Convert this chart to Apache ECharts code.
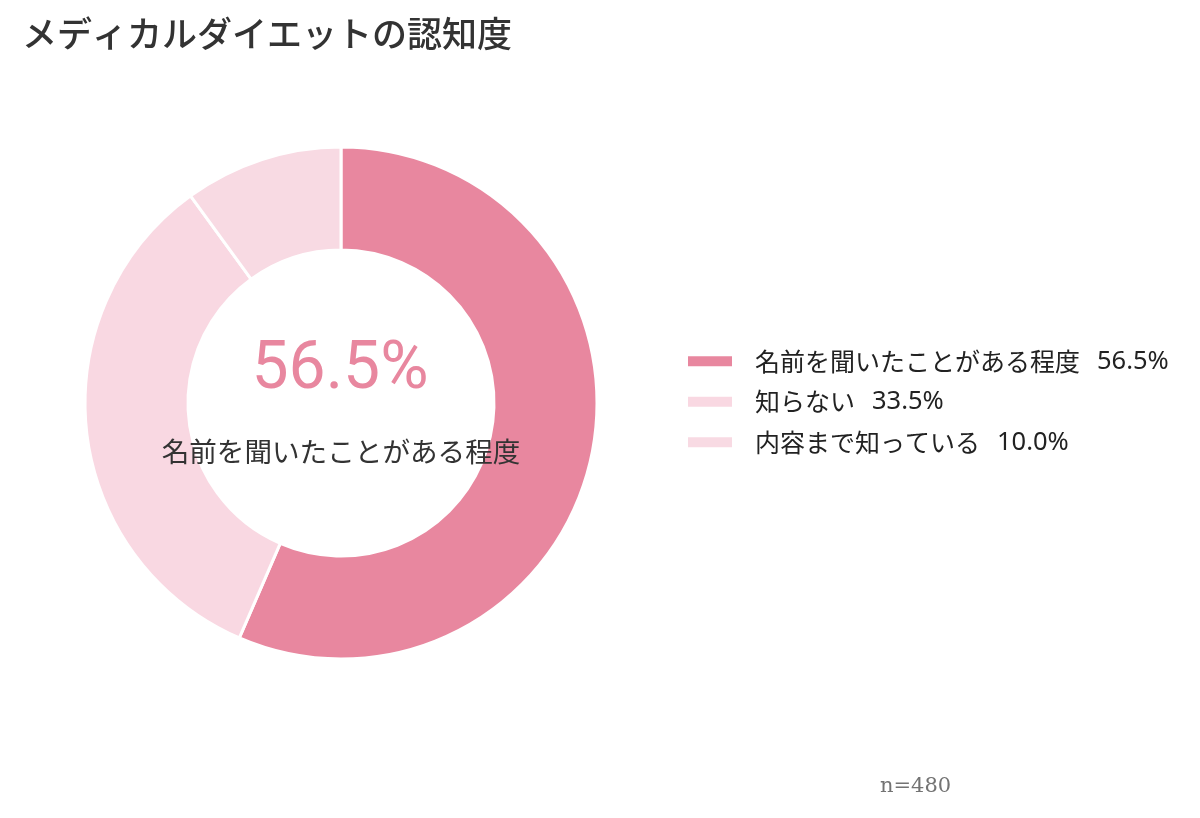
<!DOCTYPE html>
<html><head><meta charset="utf-8">
<script src="https://cdn.jsdelivr.net/npm/echarts@6/dist/echarts.min.js"></script>
<style>html,body{margin:0;padding:0;background:#fff}#c{width:1200px;height:818px}</style>
</head><body><div id="c"></div>
<script>
const categories = ['名前を聞いたことがある程度', '知らない', '内容まで知っている'];
const values = [56.5, 33.5, 10.0];
const colors = ['#E8879F', '#F9D8E2', '#F8DAE3'];
const titleText = 'メディカルダイエットの認知度';
const sampleText = 'n=480';

const font = '"Noto Sans CJK JP", "Noto Sans", sans-serif';
const chart = echarts.init(document.getElementById('c'));
chart.setOption({
  backgroundColor: '#fff',
  animation: false,
  title: [
    { text: titleText, left: 17, top: 11, textStyle: { fontFamily: font, fontSize: 35, fontWeight: 500, color: '#333' } },
    { text: values[0].toFixed(1) + '%', left: 335, top: 366, textAlign: 'center', textVerticalAlign: 'middle',
      textStyle: { fontFamily: 'Roboto, "Noto Sans", sans-serif', fontSize: 66, fontWeight: 400, color: '#E8879F' } },
    { text: categories[0], left: 336, top: 447, textAlign: 'center', textVerticalAlign: 'middle',
      textStyle: { fontFamily: font, fontSize: 27.6, fontWeight: 400, color: '#333' } }
  ],
  graphic: [
    { type: 'text', left: 880, top: 776, style: { text: sampleText, font: '21px "DejaVu Serif", serif', fill: '#737373' } }
  ],
  legend: {
    orient: 'vertical', left: 681, top: 342,
    itemWidth: 46, itemHeight: 12, itemGap: 12,
    icon: 'rect',
    data: categories,
    formatter: function (name) {
      const i = categories.indexOf(name);
      return '{n|' + name + '}{v|' + values[i].toFixed(1) + '%}';
    },
    textStyle: {
      fontFamily: font, fontSize: 25, color: '#222', lineHeight: 28.5, padding: [0, 0, 0, 17],
      rich: {
        n: { fontFamily: font, fontSize: 25, color: '#222', lineHeight: 28.5 },
        v: { fontFamily: '"Noto Sans", sans-serif', fontSize: 25.5, color: '#222', lineHeight: 28.5, padding: [0, 0, 0, 17] }
      }
    }
  },
  series: [{
    type: 'pie',
    center: [341, 403],
    radius: [153, 256],
    startAngle: 90,
    clockwise: true,
    label: { show: false },
    labelLine: { show: false },
    emphasis: { disabled: true },
    itemStyle: { borderColor: '#fff', borderWidth: 3 },
    data: categories.map((c, i) => ({ name: c, value: values[i], itemStyle: { color: colors[i] } }))
  }]
});
</script></body></html>
